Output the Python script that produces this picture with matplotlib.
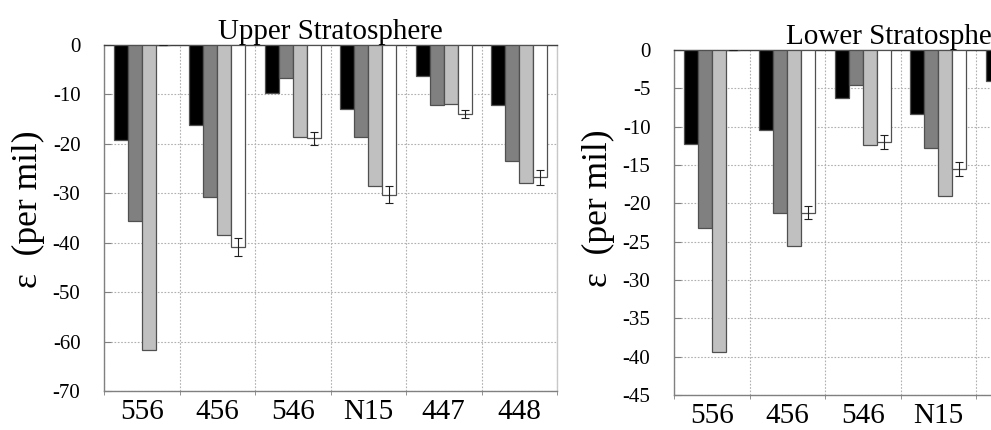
import matplotlib
matplotlib.use("Agg")
import matplotlib.pyplot as plt
import numpy as np

SERIF = ['Liberation Serif', 'DejaVu Serif']
plt.rcParams['font.family'] = SERIF
plt.rcParams['font.serif'] = SERIF

categories = ["556", "456", "546", "N15", "447", "448"]

# Upper Stratosphere
upper_s1 = [-19.2, -16.2, -9.7, -13.0, -6.3, -12.1]
upper_s2 = [-35.6, -30.7, -6.7, -18.6, -12.2, -23.5]
upper_s3 = [-61.7, -38.4, -18.6, -28.5, -12.0, -27.9]
upper_s4 = [0.0, -40.8, -18.9, -30.3, -13.9, -26.8]
upper_err = [0.0, 1.8, 1.4, 1.7, 0.85, 1.5]

# Lower Stratosphere
lower_s1 = [-12.3, -10.4, -6.3, -8.4, -4.0, -7.8]
lower_s2 = [-23.2, -21.2, -4.6, -12.8, -8.0, -15.2]
lower_s3 = [-39.4, -25.6, -12.4, -19.1, -7.9, -18.0]
lower_s4 = [0.0, -21.2, -12.0, -15.5, -9.0, -17.3]
lower_err = [0.0, 0.8, 0.9, 0.95, 0.6, 1.0]

colors = ["#000000", "#808080", "#c0c0c0", "#ffffff"]

W, H = 991, 430
fig = plt.figure(figsize=(W / 100, H / 100), dpi=100)


def panel(rect, title, series, err, ylim, yticks, label_y):
    ax = fig.add_axes(rect)
    x = np.arange(len(categories))
    w = 0.185
    offs = [-1.5 * w, -0.5 * w, 0.5 * w, 1.5 * w]
    for k, (vals, c) in enumerate(zip(series, colors)):
        ax.bar(x + offs[k], vals, width=w, color=c, edgecolor="#505050",
               linewidth=0.9, zorder=3)
    ax.errorbar(x + offs[3], series[3], yerr=err, fmt='none', ecolor="#202020",
                elinewidth=0.8, capsize=3, capthick=0.8, zorder=4)
    ax.set_xlim(-0.5, len(categories) - 0.5)
    ax.set_ylim(*ylim)
    ax.set_yticks(yticks)
    ax.set_yticklabels([f"{t:g}" for t in yticks], fontfamily=SERIF,
                       fontsize=15)
    ax.set_xticks(x)
    ax.set_xticklabels(categories, fontsize=21, fontfamily=SERIF)
    ax.set_xticks(np.arange(len(categories) + 1) - 0.5, minor=True)
    ax.tick_params(axis='x', which='major', length=0, pad=6)
    ax.tick_params(axis='x', which='minor', length=3, color="#808080",
                   direction='out')
    ax.tick_params(axis='y', length=5, direction='in',
                   color="#808080", pad=17)
    ax.grid(True, axis='y', which='major', linestyle=(0, (1.5, 1.5)),
            color="#b0b0b0", linewidth=0.8, zorder=0)
    ax.grid(True, axis='x', which='minor', linestyle=(0, (1.5, 1.5)),
            color="#b0b0b0", linewidth=0.8, zorder=0)
    ax.spines['left'].set_color("#808080")
    ax.spines['bottom'].set_color("#808080")
    ax.spines['top'].set_color("#404040")
    ax.spines['right'].set_color("#c8c8c8")
    for s in ax.spines.values():
        s.set_linewidth(1.0)
    ax.set_title(title, fontsize=21, pad=1, fontfamily=SERIF)
    ax.set_ylabel("ε  (per mil)", fontsize=25.5, fontfamily=SERIF)
    ax.yaxis.set_label_coords(-0.130, label_y)
    return ax


panel([104 / W, 1 - 391 / H, 453 / W, 346 / H], "Upper Stratosphere",
      [upper_s1, upper_s2, upper_s3, upper_s4], upper_err,
      (-70, 0), list(range(-70, 1, 10)), 0.525)

panel([674 / W, 1 - 395 / H, 453 / W, 345 / H], "Lower Stratosphere",
      [lower_s1, lower_s2, lower_s3, lower_s4], lower_err,
      (-45, 0), list(range(-45, 1, 5)), 0.54)

fig.savefig("out.png", dpi=100)
